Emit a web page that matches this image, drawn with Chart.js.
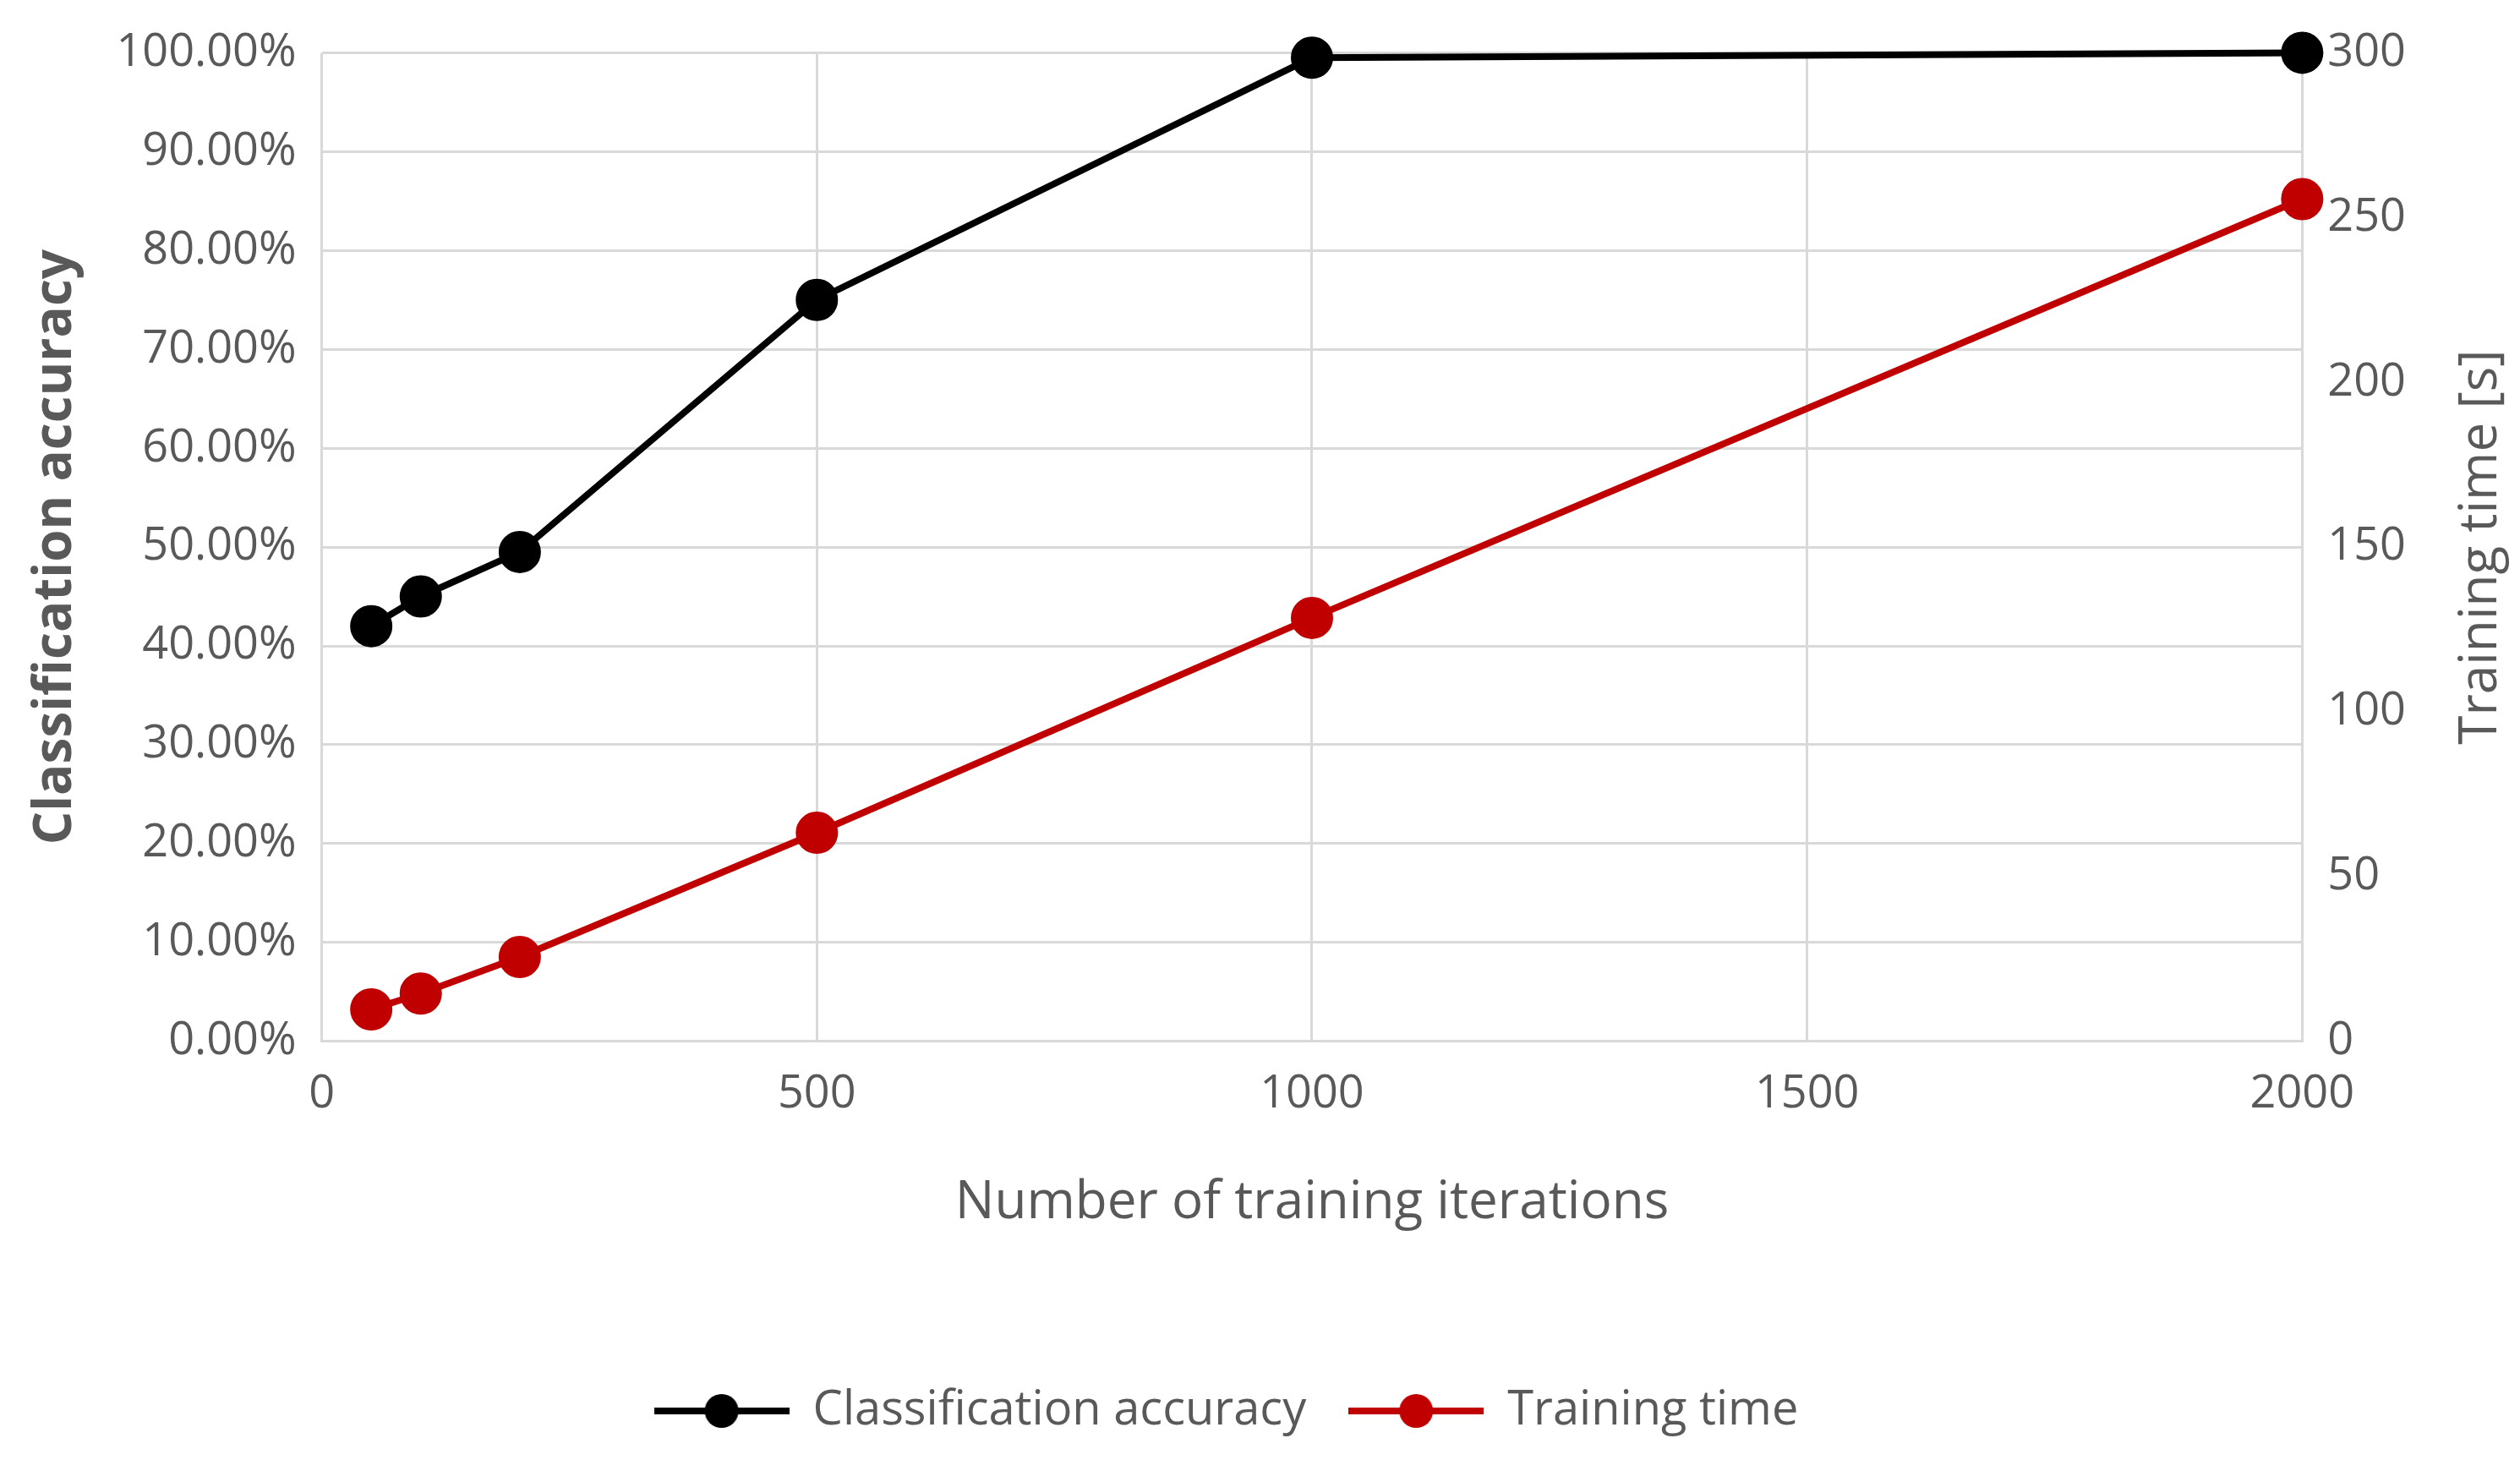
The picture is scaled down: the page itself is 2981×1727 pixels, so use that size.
<!DOCTYPE html>
<html><head><meta charset="utf-8">
<script src="https://cdn.jsdelivr.net/npm/chart.js@4/dist/chart.umd.min.js"></script>
<style>html,body{margin:0;padding:0;background:#fff}#wrap{width:2981px;height:1727px}</style>
</head><body><div id="wrap"><canvas id="c" width="2981" height="1727"></canvas></div>
<script>
const iterations = [50, 100, 200, 500, 1000, 2000];
const accuracy = [0.42, 0.45, 0.495, 0.75, 0.995, 1.0];
const trainingTime = [9.7, 14.5, 25.6, 63.3, 128.5, 255.6];
const xTicks = [0, 500, 1000, 1500, 2000];
const seriesNames = ['Classification accuracy', 'Training time'];
const rightTitle = 'Training time [s]';
const FONT = "'Open Sans', sans-serif";
function sym(color){
  const c=document.createElement('canvas');c.width=160;c.height=44;
  const g=c.getContext('2d');g.strokeStyle=color;g.lineWidth=8;
  g.beginPath();g.moveTo(0,22);g.lineTo(160,22);g.stroke();
  g.fillStyle=color;g.beginPath();g.arc(80,22,20,0,Math.PI*2);g.fill();return c;
}
const rightTitlePlugin={id:'rt',afterDraw(ch){
  const g=ch.ctx,a=ch.chartArea;g.save();
  g.translate(2935,(a.top+a.bottom)/2);g.rotate(-Math.PI/2);
  g.font="62px "+FONT;g.fillStyle='#595959';g.textAlign='center';g.textBaseline='middle';
  g.fillText(rightTitle,0,0);g.restore();}};
new Chart(document.getElementById('c'),{
  type:'scatter',
  plugins:[rightTitlePlugin],
  data:{datasets:[
    {label:seriesNames[0],data:iterations.map((x,i)=>({x,y:accuracy[i]})),yAxisID:'y',showLine:true,clip:false,
     borderColor:'#000',backgroundColor:'#000',borderWidth:8,pointRadius:21,pointHoverRadius:21,pointStyle:'circle'},
    {label:seriesNames[1],data:iterations.map((x,i)=>({x,y:trainingTime[i]})),yAxisID:'y1',showLine:true,clip:false,
     borderColor:'#c00000',backgroundColor:'#c00000',borderWidth:8,pointRadius:21,pointHoverRadius:21,pointStyle:'circle'}
  ]},
  options:{responsive:false,devicePixelRatio:1,animation:false,
    layout:{padding:{left:25,right:105,top:25,bottom:20}},
    plugins:{tooltip:{enabled:false},
      legend:{position:'bottom',labels:{font:{family:FONT,size:56},color:'#595959',padding:50,usePointStyle:true,pointStyleWidth:160,
        generateLabels:(ch)=>ch.data.datasets.map((d,i)=>({text:d.label,pointStyle:sym(d.borderColor),fillStyle:d.borderColor,strokeStyle:d.borderColor,lineWidth:0,datasetIndex:i,fontColor:'#595959'}))}}},
    scales:{
      x:{type:'linear',min:0,max:2000,afterBuildTicks:a=>{a.ticks=xTicks.map(v=>({value:v}))},
        grid:{color:'#d9d9d9',lineWidth:3,drawTicks:false},border:{color:'#d9d9d9',width:3},
        ticks:{font:{family:FONT,size:54},color:'#595959',padding:30,callback:v=>String(v)},
        title:{display:true,text:'Number of training iterations',font:{family:FONT,size:62},color:'#595959',padding:{top:30,bottom:130}}},
      y:{position:'left',min:0,max:1,ticks:{stepSize:0.1,font:{family:FONT,size:54},color:'#595959',padding:30,callback:v=>(v*100).toFixed(2)+'%'},
        grid:{color:'#d9d9d9',lineWidth:3,drawTicks:false},border:{display:false},
        title:{display:true,text:'Classification accuracy',font:{family:FONT,size:62,weight:'bold'},color:'#595959'}},
      y1:{position:'right',min:0,max:300,ticks:{stepSize:50,font:{family:FONT,size:54},color:'#595959',padding:30},
        grid:{display:false,drawTicks:false},border:{display:false}}
    }}
});
</script></body></html>
